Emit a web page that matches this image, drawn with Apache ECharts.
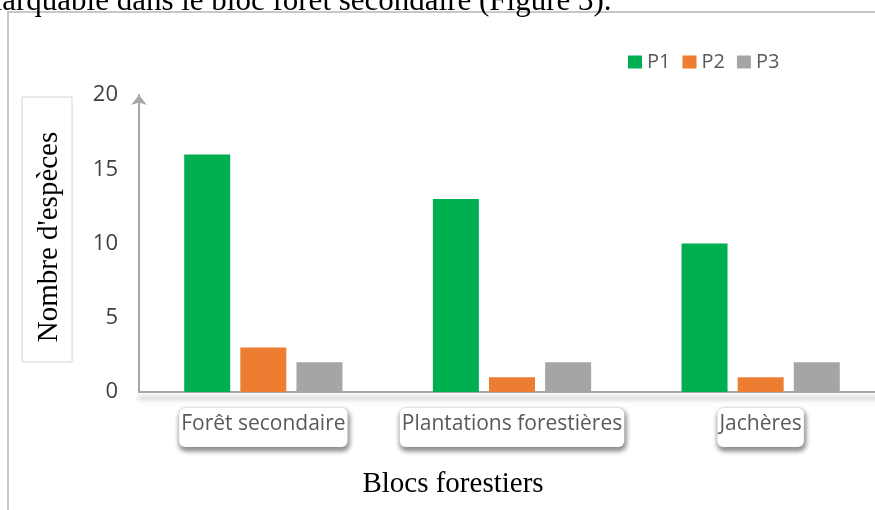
<!DOCTYPE html>
<html>
<head>
<meta charset="utf-8">
<script src="https://cdn.jsdelivr.net/npm/echarts@6/dist/echarts.min.js"></script>
<style>
  html, body { margin: 0; padding: 0; background: #fff; }
  #chart { width: 875px; height: 510px; }
</style>
</head>
<body>
<div id="chart"></div>
<script>
// données
const categories = ['Forêt secondaire', 'Plantations forestières', 'Jachères'];
const seriesNames = ['P1', 'P2', 'P3'];
const p1Values = [16, 13, 10];
const p2Values = [3, 1, 1];
const p3Values = [2, 2, 2];
const yTicks = [0, 5, 10, 15, 20];
const colors = ['#00B050', '#ED7D31', '#A5A5A5'];

const chart = echarts.init(document.getElementById('chart'));

const labelFont = '"Open Sans", Lato, sans-serif';
const serifFont = '"Liberation Serif", "DejaVu Serif", serif';

const makeBar = (name, data, color) => ({
  name,
  type: 'bar',
  data,
  barWidth: 46,
  barGap: '22%',
  itemStyle: { color },
});

const option = {
  animation: false,
  color: colors,
  grid: {
    left: 139,
    right: -10,
    top: 95,
    bottom: 118,
    outerBoundsMode: 'none',
  },
  legend: {
    data: seriesNames,
    left: 623,
    top: 47,
    icon: 'rect',
    itemWidth: 14,
    itemHeight: 13,
    itemGap: 12,
    textStyle: { fontFamily: labelFont, fontSize: 20, color: '#595959' },
  },
  xAxis: {
    type: 'category',
    data: categories,
    axisTick: { show: false },
    axisLine: {
      symbol: ['none', 'arrow'],
      symbolSize: [12, 10],
      lineStyle: {
        color: '#A6A6A6',
        width: 2,
        shadowColor: 'rgba(0,0,0,0.35)',
        shadowBlur: 5,
        shadowOffsetY: 6,
      },
    },
    axisLabel: {
      interval: 0,
      margin: 16,
      fontFamily: labelFont,
      fontSize: 21,
      color: '#595959',
      backgroundColor: '#fff',
      borderColor: '#e8e8e8',
      borderWidth: 1,
      borderRadius: 6,
      padding: [6, 2, 12, 2],
      shadowColor: 'rgba(0,0,0,0.45)',
      shadowBlur: 5,
      shadowOffsetX: 1,
      shadowOffsetY: 3,
    },
  },
  yAxis: {
    type: 'value',
    min: yTicks[0],
    max: yTicks[yTicks.length - 1],
    interval: yTicks[1] - yTicks[0],
    splitLine: { show: false },
    axisTick: { show: false },
    axisLine: {
      show: true,
      symbol: ['none', 'arrow'],
      symbolSize: [12, 10],
      lineStyle: { color: '#A6A6A6', width: 2 },
    },
    axisLabel: {
      margin: 21,
      fontFamily: labelFont,
      fontSize: 22,
      color: '#404040',
    },
  },
  series: [
    makeBar(seriesNames[0], p1Values, colors[0]),
    makeBar(seriesNames[1], p2Values, colors[1]),
    makeBar(seriesNames[2], p3Values, colors[2]),
  ],
  graphic: [
    // texte du document coupé en haut
    {
      type: 'text',
      x: -46,
      y: 2,
      style: {
        text: 'remarquable dans le bloc forêt secondaire (Figure 3).',
        font: '31px ' + serifFont,
        fill: '#000',
        verticalAlign: 'middle',
      },
    },
    // cadre de la figure
    {
      type: 'rect',
      shape: { x: 8, y: 12, width: 900, height: 520 },
      style: { fill: 'none', stroke: '#c8c8c8', lineWidth: 2 },
      z: -1,
    },
    // titre de l'axe Y dans sa boîte
    {
      type: 'rect',
      shape: { x: 22, y: 97, width: 50, height: 265 },
      style: { fill: '#fff', stroke: '#d4d4d4', lineWidth: 1 },
    },
    {
      type: 'text',
      x: 49,
      y: 237,
      rotation: Math.PI / 2,
      style: {
        text: "Nombre d'espèces",
        font: '29px ' + serifFont,
        fill: '#000',
        align: 'center',
        verticalAlign: 'middle',
      },
    },
    // titre de l'axe X
    {
      type: 'text',
      x: 453,
      y: 484,
      style: {
        text: 'Blocs forestiers',
        font: '29px ' + serifFont,
        fill: '#000',
        align: 'center',
        verticalAlign: 'middle',
      },
    },
  ],
};

chart.setOption(option);
</script>
</body>
</html>
